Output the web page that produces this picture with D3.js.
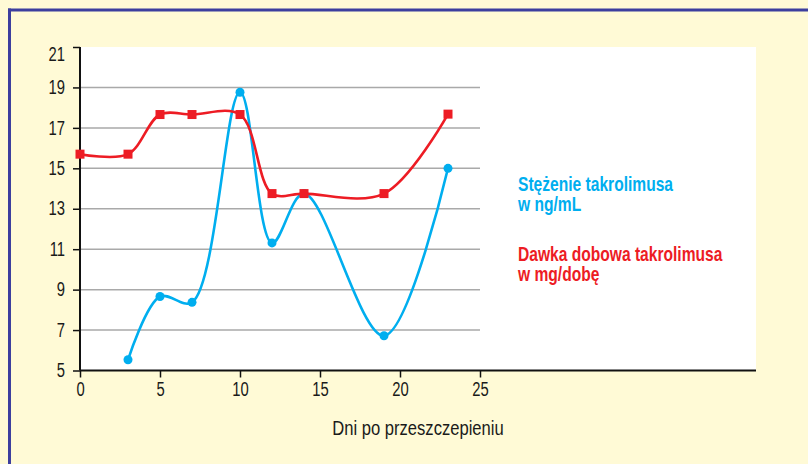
<!DOCTYPE html>
<html>
<head>
<meta charset="utf-8">
<script src="https://cdn.jsdelivr.net/npm/d3@7"></script>
<style>
  body { margin: 0; background: #fffad6; }
  svg { display: block; }
  .tick text { font-family: "Liberation Sans", Arial, sans-serif; font-size: 19.5px; fill: #1a1a1a; }
</style>
</head>
<body>
<div id="chart"></div>
<script>
// dni po przeszczepieniu
var days = [0, 3, 5, 7, 10, 12, 14, 19, 23];
// stezenie takrolimusa (ng/mL) - brak pomiaru w dniu 0
var concDays = [3, 5, 7, 10, 12, 14, 19, 23];
var concValues = [5.53, 8.66, 8.37, 18.76, 11.31, 13.75, 6.72, 15.0];
// dawka dobowa (mg/dobe)
var doseValues = [15.7, 15.7, 17.66, 17.66, 17.66, 13.75, 13.75, 13.75, 17.68];
var xTicks = [0, 5, 10, 15, 20, 25];
var yTicks = [5, 7, 9, 11, 13, 15, 17, 19, 21];

var W = 808, H = 464;
var blue = "#00aeef", red = "#ed1c24";
var narrow = 0.76; // brak kroju "condensed" - sciskamy Liberation Sans

var svg = d3.select("#chart").append("svg")
	.attr("width", W)
	.attr("height", H);

// tlo + ramka
svg.append("rect").attr("width", W).attr("height", H).attr("fill", "#fffad6");
svg.append("line").attr("x1", 9.5).attr("x2", 9.5).attr("y1", 8.5).attr("y2", H)
	.attr("stroke", "#3c3e9e").attr("stroke-width", 3);
svg.append("line").attr("x1", 8).attr("x2", W).attr("y1", 10).attr("y2", 10)
	.attr("stroke", "#3c3e9e").attr("stroke-width", 3);

var x = d3.scaleLinear().domain([0, 25]).range([80, 480]);
var y = d3.scaleLinear().domain([5, 21]).range([370.5, 47]);

// biale pole wykresu
svg.append("rect")
	.attr("x", x(0)).attr("y", y(21))
	.attr("width", 756 - x(0)).attr("height", y(5) - y(21))
	.attr("fill", "#fff");

// linie siatki
svg.append("g").selectAll("line")
	.data(yTicks.filter(function(d){ return d > 5 && d < 21; }))
	.enter().append("line")
	.attr("x1", x(0)).attr("x2", x(25))
	.attr("y1", function(d){ return y(d); })
	.attr("y2", function(d){ return y(d); })
	.attr("stroke", "#a9a9a9")
	.attr("stroke-width", 1.5);

var xAxis = d3.axisBottom(x).tickValues(xTicks).tickSize(7).tickPadding(5);
var yAxis = d3.axisLeft(y).tickValues(yTicks).tickSize(7);

var gx = svg.append("g")
	.attr("transform", "translate(0," + y(5) + ")")
	.call(xAxis);
gx.select(".domain").remove();
gx.selectAll(".tick line").attr("stroke", "#111").attr("stroke-width", 1.5);
gx.selectAll(".tick text").attr("transform", "scale(" + narrow + ",1)");

var gy = svg.append("g")
	.attr("transform", "translate(" + x(0) + ",0)")
	.call(yAxis);
gy.select(".domain").remove();
gy.selectAll(".tick line").attr("stroke", "#111").attr("stroke-width", 1.5);
gy.selectAll(".tick text")
	.attr("x", -15 / narrow)
	.attr("transform", "scale(" + narrow + ",1)");
// gorna etykieta lekko w dol
gy.selectAll(".tick text").filter(function(d){ return d === 21; }).attr("dy", "0.7em");

// osie
svg.append("line").attr("x1", x(0)).attr("x2", x(0)).attr("y1", y(21)).attr("y2", y(5))
	.attr("stroke", "#111").attr("stroke-width", 2);
svg.append("line").attr("x1", x(0)).attr("x2", 756).attr("y1", y(5)).attr("y2", y(5))
	.attr("stroke", "#111").attr("stroke-width", 2);

svg.append("text")
	.attr("transform", "translate(418,435) scale(0.83,1)")
	.attr("text-anchor", "middle")
	.style("font-family", "'Liberation Sans', Arial, sans-serif")
	.style("font-size", "20px")
	.attr("fill", "#1a1a1a")
	.text("Dni po przeszczepieniu");

var line = d3.line()
	.x(function(d){ return x(d[0]); })
	.y(function(d){ return y(d[1]); })
	.curve(d3.curveCatmullRom.alpha(0.5));

var conc = d3.zip(concDays, concValues);
var dose = d3.zip(days, doseValues);

// stezenie - niebieska
svg.append("path").datum(conc)
	.attr("d", line)
	.attr("fill", "none")
	.attr("stroke", blue)
	.attr("stroke-width", 2.6);
svg.append("g").selectAll("circle")
	.data(conc).enter().append("circle")
	.attr("cx", function(d){ return x(d[0]); })
	.attr("cy", function(d){ return y(d[1]); })
	.attr("r", 4.5)
	.attr("fill", blue);

// dawka - czerwona
svg.append("path").datum(dose)
	.attr("d", line)
	.attr("fill", "none")
	.attr("stroke", red)
	.attr("stroke-width", 2.6);
svg.append("g").selectAll("rect")
	.data(dose).enter().append("rect")
	.attr("x", function(d){ return x(d[0]) - 4.5; })
	.attr("y", function(d){ return y(d[1]) - 4.5; })
	.attr("width", 9).attr("height", 9)
	.attr("fill", red);

// legenda
var legend = [
	{ color: blue, lines: ["Stężenie takrolimusa", "w ng/mL"], y: 190.5 },
	{ color: red, lines: ["Dawka dobowa takrolimusa", "w mg/dobę"], y: 261 }
];
legend.forEach(function(l){
	var t = svg.append("text")
		.attr("transform", "translate(518," + l.y + ") scale(0.8,1)")
		.style("font-family", "'Liberation Sans', Arial, sans-serif")
		.style("font-size", "19.5px")
		.style("font-weight", "bold")
		.attr("fill", l.color);
	l.lines.forEach(function(s, i){
		t.append("tspan").attr("x", 0).attr("dy", i ? 20.5 : 0).text(s);
	});
});
</script>
</body>
</html>
